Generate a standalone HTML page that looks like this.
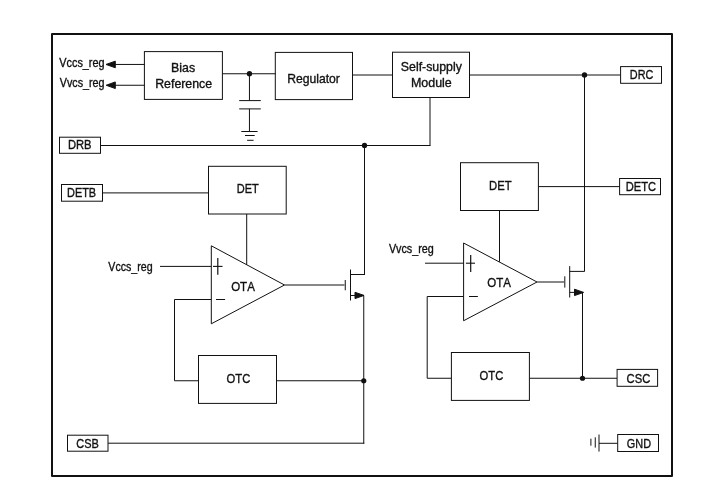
<!DOCTYPE html>
<html><head><meta charset="utf-8"><style>
html,body{margin:0;padding:0;background:#fff;width:714px;height:504px;overflow:hidden}
svg{display:block;filter:blur(0.3px)}
text{font-family:"Liberation Sans",sans-serif;font-kerning:none}
</style></head><body>
<svg width="714" height="504" viewBox="0 0 714 504">
<rect width="714" height="504" fill="#fff"/>
<g fill="none" stroke="#111" stroke-linecap="butt">
<rect x="52" y="34" width="620" height="442" stroke-width="2" stroke-linejoin="round"/>
<rect x="144.4" y="51.6" width="78" height="47.8" stroke-width="1"/>
<rect x="275.3" y="52.4" width="77.2" height="47.2" stroke-width="1"/>
<rect x="392.5" y="52.2" width="77" height="45.3" stroke-width="1"/>
<line x1="114" y1="64.45" x2="144.5" y2="64.45" stroke-width="1"/>
<polygon points="106,64.45 115.3,61.15 115.3,67.75" fill="#111"/>
<line x1="114" y1="85.25" x2="144.5" y2="85.25" stroke-width="1"/>
<polygon points="106.2,85.25 115.3,81.95 115.3,88.55" fill="#111"/>
<line x1="222.5" y1="73.75" x2="275.5" y2="73.75" stroke-width="1"/>
<circle cx="249.45" cy="73.75" r="2.65" fill="#111" stroke="none"/>
<line x1="249.45" y1="73.75" x2="249.45" y2="100.6" stroke-width="1"/>
<line x1="239.2" y1="100.6" x2="260.8" y2="100.6" stroke-width="1"/>
<line x1="239.2" y1="108.9" x2="260.8" y2="108.9" stroke-width="1"/>
<line x1="249.45" y1="108.9" x2="249.45" y2="131.5" stroke-width="1"/>
<line x1="241.3" y1="131.5" x2="257.6" y2="131.5" stroke-width="1"/>
<line x1="245" y1="135.5" x2="254.7" y2="135.5" stroke-width="1"/>
<line x1="247.1" y1="140.3" x2="253.6" y2="140.3" stroke-width="1"/>
<line x1="352.5" y1="75" x2="392.5" y2="75" stroke-width="1"/>
<line x1="469.5" y1="75" x2="620.5" y2="75" stroke-width="1"/>
<circle cx="584.5" cy="75" r="2.7" fill="#111" stroke="none"/>
<rect x="620.6" y="66.6" width="40.9" height="16.7" stroke-width="1"/>
<line x1="430" y1="97.5" x2="430" y2="145.5" stroke-width="1"/>
<line x1="100.5" y1="145.5" x2="430.5" y2="145.5" stroke-width="1"/>
<circle cx="364.5" cy="145.4" r="2.65" fill="#111" stroke="none"/>
<rect x="59.5" y="137.2" width="41" height="16.1" stroke-width="1"/>
<line x1="364.5" y1="145.5" x2="364.5" y2="274.5" stroke-width="1"/>
<rect x="61.5" y="184.5" width="41" height="16.7" stroke-width="1"/>
<line x1="102.5" y1="192.9" x2="208.5" y2="192.9" stroke-width="1"/>
<rect x="208.5" y="166.3" width="77.7" height="47.7" stroke-width="1"/>
<line x1="246.7" y1="214" x2="246.7" y2="264.8" stroke-width="1"/>
<polygon points="211.3,245.8 211.3,323.8 284.5,285" fill="none"/>
<line x1="217.8" y1="258.1" x2="217.8" y2="274.8" stroke-width="1.2"/>
<line x1="213" y1="266.4" x2="222.5" y2="266.4" stroke-width="1.1"/>
<line x1="160" y1="266.4" x2="211.3" y2="266.4" stroke-width="1"/>
<line x1="216" y1="299.5" x2="225.1" y2="299.5" stroke-width="1"/>
<line x1="174.5" y1="299.5" x2="211.3" y2="299.5" stroke-width="1"/>
<line x1="174.5" y1="299.5" x2="174.5" y2="380.75" stroke-width="1"/>
<line x1="174.5" y1="380.75" x2="198.5" y2="380.75" stroke-width="1"/>
<rect x="198.5" y="355.5" width="78" height="47.9" stroke-width="1"/>
<line x1="276.5" y1="380.75" x2="363.75" y2="380.75" stroke-width="1"/>
<circle cx="363.75" cy="380.75" r="2.6" fill="#111" stroke="none"/>
<line x1="363.75" y1="295.5" x2="363.75" y2="443.7" stroke-width="1"/>
<line x1="108" y1="443.2" x2="364.25" y2="443.2" stroke-width="1"/>
<rect x="67.5" y="435.2" width="40.5" height="16" stroke-width="1"/>
<line x1="284.5" y1="285" x2="344.5" y2="285" stroke-width="1"/>
<line x1="345.25" y1="280" x2="345.25" y2="290.25" stroke-width="1"/>
<line x1="350.5" y1="269.5" x2="350.5" y2="300.5" stroke-width="1"/>
<line x1="350.5" y1="274.5" x2="365" y2="274.5" stroke-width="1"/>
<line x1="350.5" y1="295.5" x2="356" y2="295.5" stroke-width="1"/>
<polygon points="355,292.3 355,298.6 364,295.4" fill="#111"/>
<rect x="460.5" y="162.7" width="77.9" height="47.8" stroke-width="1"/>
<line x1="538.4" y1="186.6" x2="619.6" y2="186.6" stroke-width="1"/>
<rect x="619.6" y="178.5" width="40.9" height="16.2" stroke-width="1"/>
<line x1="584.5" y1="74.75" x2="584.5" y2="271.5" stroke-width="1"/>
<line x1="499.5" y1="210.5" x2="499.5" y2="261.8" stroke-width="1"/>
<polygon points="463.6,243 463.6,320.75 537,282" fill="none"/>
<line x1="425" y1="263.2" x2="463.6" y2="263.2" stroke-width="1"/>
<line x1="470.7" y1="255" x2="470.7" y2="271.9" stroke-width="1.2"/>
<line x1="465.9" y1="263.2" x2="475" y2="263.2" stroke-width="1.1"/>
<line x1="469" y1="296.5" x2="477.9" y2="296.5" stroke-width="1"/>
<line x1="427.2" y1="296.5" x2="463.6" y2="296.5" stroke-width="1"/>
<line x1="427.2" y1="296.5" x2="427.2" y2="378.25" stroke-width="1"/>
<line x1="427.2" y1="378.25" x2="451.4" y2="378.25" stroke-width="1"/>
<rect x="451.4" y="352.5" width="78" height="47.9" stroke-width="1"/>
<line x1="529.5" y1="378.25" x2="617" y2="378.25" stroke-width="1"/>
<circle cx="582.5" cy="378.25" r="2.6" fill="#111" stroke="none"/>
<line x1="537" y1="282" x2="564" y2="282" stroke-width="1"/>
<line x1="564.8" y1="276.3" x2="564.8" y2="287.6" stroke-width="1"/>
<line x1="569.7" y1="266.1" x2="569.7" y2="297.5" stroke-width="1"/>
<line x1="569.7" y1="271.4" x2="584.5" y2="271.4" stroke-width="1"/>
<line x1="569.7" y1="292.4" x2="575" y2="292.4" stroke-width="1"/>
<polygon points="574.5,289.2 574.5,295.6 583.6,292.4" fill="#111"/>
<line x1="582.5" y1="292.4" x2="582.5" y2="378.25" stroke-width="1"/>
<rect x="617.1" y="369.4" width="40.5" height="16.9" stroke-width="1"/>
<rect x="617.7" y="434.5" width="40.8" height="17" stroke-width="1"/>
<line x1="599" y1="443.3" x2="617.5" y2="443.3" stroke-width="1"/>
<line x1="599" y1="434.5" x2="599" y2="451.6" stroke-width="1"/>
<line x1="595.25" y1="437.3" x2="595.25" y2="447.6" stroke-width="1"/>
<line x1="590.9" y1="438.7" x2="590.9" y2="445.7" stroke-width="1"/>
</g>
<g fill="#111" stroke="#111" stroke-width="0.35" font-family="Liberation Sans, sans-serif" font-size="12.5px">
<text font-size="12.21" transform="translate(59.30,66.90) scale(0.8903,1)">Vccs_reg</text>
<text font-size="12.06" transform="translate(59.80,86.90) scale(0.8909,1)">Vvcs_reg</text>
<text font-size="12.50" transform="translate(171.11,71.70) scale(0.9895,1)">Bias</text>
<text font-size="12.50" transform="translate(155.21,87.90) scale(0.9872,1)">Reference</text>
<text font-size="13.08" transform="translate(287.13,82.85) scale(0.9315,1)">Regulator</text>
<text font-size="13.08" transform="translate(400.81,70.90) scale(0.9441,1)">Self-supply</text>
<text font-size="13.08" transform="translate(410.90,86.60) scale(0.9545,1)">Module</text>
<text font-size="12.50" transform="translate(629.83,78.80) scale(0.8684,1)">DRC</text>
<text font-size="11.92" transform="translate(67.90,148.60) scale(0.9387,1)">DRB</text>
<text font-size="12.21" transform="translate(67.03,196.60) scale(0.8932,1)">DETB</text>
<text font-size="12.79" transform="translate(236.72,192.90) scale(0.8604,1)">DET</text>
<text font-size="12.79" transform="translate(489.10,189.80) scale(0.8810,1)">DET</text>
<text font-size="12.65" transform="translate(625.81,190.80) scale(0.8787,1)">DETC</text>
<text font-size="12.50" transform="translate(108.30,270.90) scale(0.8501,1)">Vccs_reg</text>
<text font-size="12.50" transform="translate(388.90,252.90) scale(0.8628,1)">Vvcs_reg</text>
<text font-size="12.94" transform="translate(231.14,290.70) scale(0.8905,1)">OTA</text>
<text font-size="13.08" transform="translate(487.34,286.90) scale(0.8806,1)">OTA</text>
<text font-size="13.08" transform="translate(226.61,382.90) scale(0.8602,1)">OTC</text>
<text font-size="13.01" transform="translate(479.61,379.90) scale(0.8650,1)">OTC</text>
<text font-size="12.21" transform="translate(76.35,447.60) scale(0.8988,1)">CSB</text>
<text font-size="12.79" transform="translate(626.59,382.80) scale(0.8804,1)">CSC</text>
<text font-size="12.79" transform="translate(626.86,447.80) scale(0.8516,1)">GND</text>
</g>
</svg>
</body></html>
